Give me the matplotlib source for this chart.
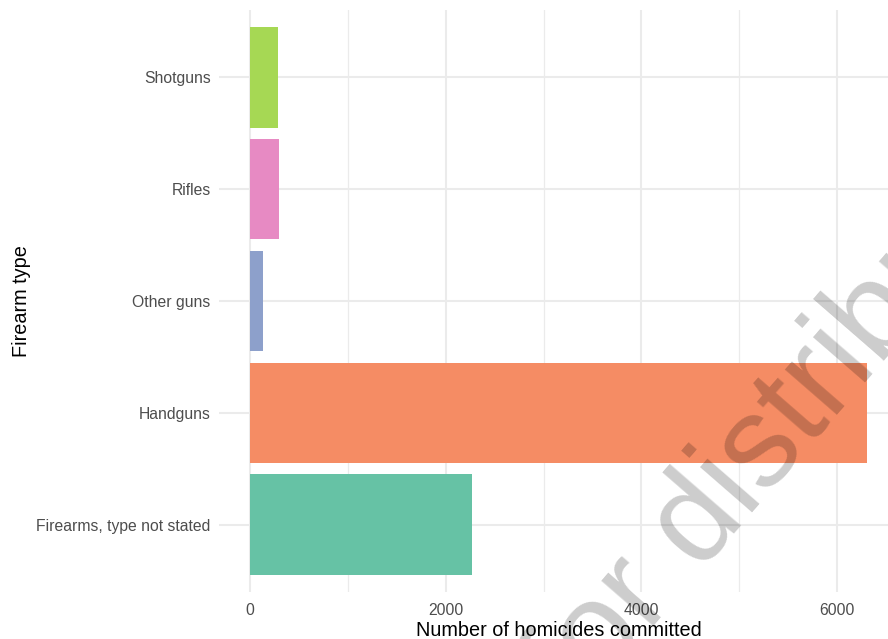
import matplotlib
matplotlib.use("Agg")
import matplotlib.pyplot as plt
from matplotlib.ticker import MultipleLocator

plt.rcParams["font.family"] = ["Liberation Sans", "DejaVu Sans"]

# Firearm homicides by weapon type (bottom to top)
firearm_types = ["Firearms, type not stated", "Handguns", "Other guns", "Rifles", "Shotguns"]
homicides = [2266, 6305, 136, 296, 283]
bar_colors = ["#66c2a5", "#f58c64", "#8da0cb", "#e78ac3", "#a6d854"]
x_ticks = [0, 2000, 4000, 6000]

W, H = 888, 639
fig = plt.figure(figsize=(W / 100, H / 100), dpi=100)
left, right, top, bottom = 219, 898, 10, 592
ax = fig.add_axes([left / W, (H - bottom) / H, (right - left) / W, (bottom - top) / H])

pos = list(range(len(firearm_types)))
ax.barh(pos, homicides, height=0.9, color=bar_colors, zorder=2)

xmax = max(homicides)
ax.set_xlim(-0.05 * xmax, 1.05 * xmax)
ax.set_ylim(-0.6, len(firearm_types) - 0.4)

ax.set_xticks(x_ticks)
ax.set_xticklabels([str(t) for t in x_ticks])
ax.xaxis.set_minor_locator(MultipleLocator(1000))
ax.set_yticks(pos)
ax.set_yticklabels(firearm_types)

ax.grid(True, which="major", axis="both", color="#ebebeb", linewidth=1.5, zorder=0)
ax.grid(True, which="minor", axis="x", color="#ebebeb", linewidth=0.9, zorder=0)
ax.set_axisbelow(True)
for s in ax.spines.values():
    s.set_visible(False)
ax.tick_params(which="both", length=0)
ax.tick_params(axis="x", pad=8, labelsize=11.3, labelcolor="#4d4d4d")
ax.tick_params(axis="y", pad=6, labelsize=11.3, labelcolor="#4d4d4d")

ax.set_xlabel("Number of homicides committed", fontsize=14.3, color="black", labelpad=2)
ax.set_ylabel("Firearm type", fontsize=14.3, color="black", labelpad=4)

# diagonal watermark
fig.text(741 / W, 1 - 474 / H, "Not for distribution", fontsize=93, color="black",
         alpha=0.2, rotation=49, rotation_mode="anchor", ha="center", va="center")

fig.savefig("out.png", dpi=100)
